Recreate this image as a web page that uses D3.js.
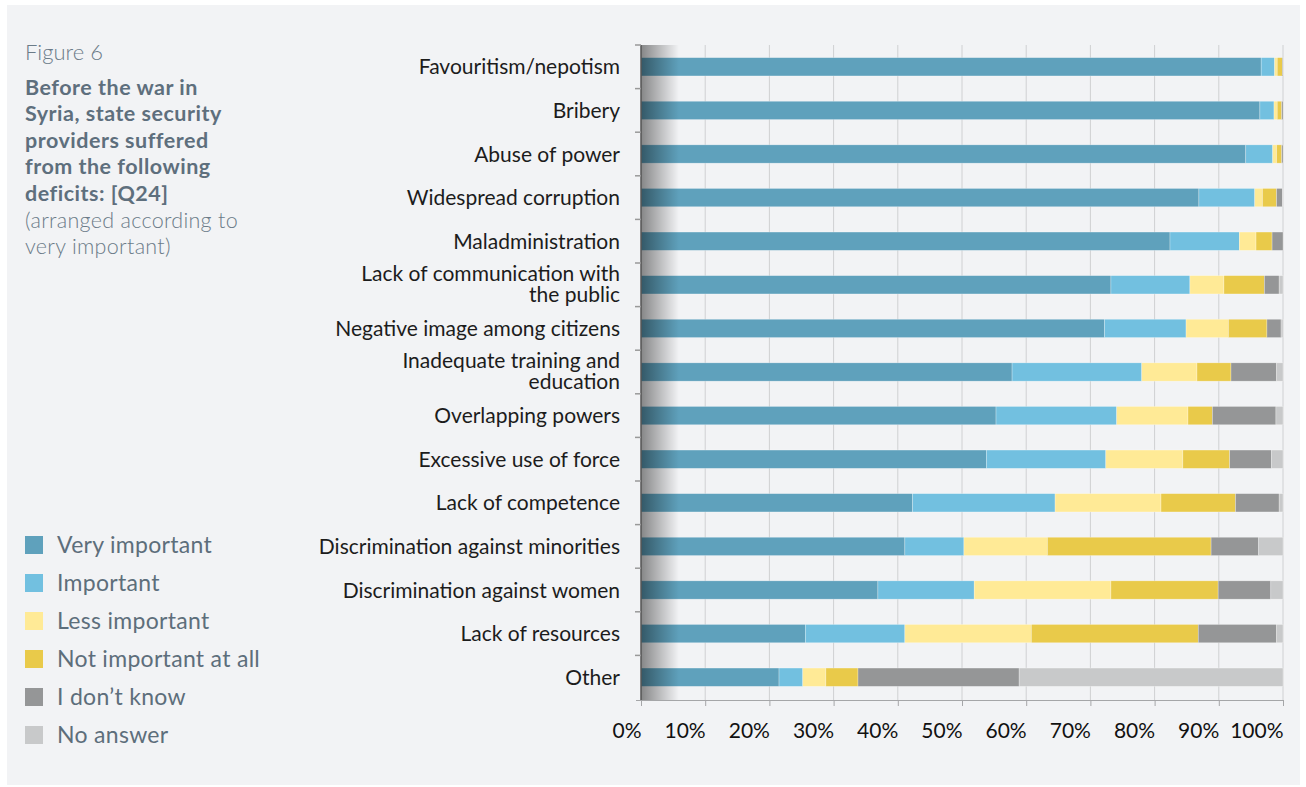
<!DOCTYPE html>
<html lang="en">

<head>
    <meta charset="UTF-8">
    <title>Figure 6</title>
    <script src="https://d3js.org/d3.v7.min.js"></script>
    <style>
        html, body {
            margin: 0;
            padding: 0;
            background: #ffffff;
        }

        #chart {
            width: 1306px;
            height: 787px;
        }

        text {
            font-family: Lato, "Open Sans", sans-serif;
        }
    </style>
</head>

<body>

    <div id="chart"></div>

    <script>
        // Data (percent of respondents)
        var categories = [
            "Favouritism/nepotism",
            "Bribery",
            "Abuse of power",
            "Widespread corruption",
            "Maladministration",
            "Lack of communication with|the public",
            "Negative image among citizens",
            "Inadequate training and|education",
            "Overlapping powers",
            "Excessive use of force",
            "Lack of competence",
            "Discrimination against minorities",
            "Discrimination against women",
            "Lack of resources",
            "Other"
        ];

        var seriesNames = ["Very important", "Important", "Less important", "Not important at all", "I don\u2019t know", "No answer"];
        var seriesColors = ["#5fa1bc", "#72c0e0", "#ffea96", "#e9ca4a", "#959697", "#c8c9ca"];

        var veryImportant = [96.6, 96.4, 94.2, 86.9, 82.4, 73.2, 72.2, 57.8, 55.3, 53.8, 42.3, 41.1, 36.9, 25.6, 21.5];
        var important      = [2.1, 2.2, 4.2, 8.7, 10.8, 12.3, 12.7, 20.2, 18.8, 18.6, 22.2, 9.2, 15.0, 15.5, 3.7];
        var lessImportant  = [0.4, 0.5, 0.6, 1.2, 2.6, 5.3, 6.6, 8.6, 11.1, 12.0, 16.5, 13.0, 21.3, 19.7, 3.6];
        var notImportant   = [0.8, 0.7, 0.8, 2.2, 2.5, 6.3, 6.0, 5.3, 3.8, 7.3, 11.6, 25.5, 16.7, 26.0, 5.0];
        var dontKnow       = [0.1, 0.2, 0.2, 0.9, 1.7, 2.3, 2.2, 7.1, 9.9, 6.5, 6.8, 7.4, 8.2, 12.2, 25.1];
        var noAnswer       = [0.0, 0.0, 0.0, 0.1, 0.0, 0.6, 0.3, 1.0, 1.1, 1.8, 0.6, 3.8, 1.9, 1.0, 41.1];

        var xTicks = [0, 10, 20, 30, 40, 50, 60, 70, 80, 90, 100];

        var width = 1306;
        var height = 787;

        var svg = d3.select("#chart")
            .append("svg")
            .attr("width", width)
            .attr("height", height);

        // panel background
        svg.append("rect")
            .attr("x", 7)
            .attr("y", 5)
            .attr("width", 1293)
            .attr("height", 780)
            .attr("fill", "#f2f3f5");

        var x = d3.scaleLinear()
            .domain([0, 100])
            .range([641, 1283]);

        var y = d3.scaleBand()
            .domain(categories)
            .range([45, 699])
            .paddingInner(0.58)
            .paddingOuter(0.29);

        // stack the series
        var rows = categories.map(function (c, i) {
            return {
                cat: c,
                s0: veryImportant[i], s1: important[i], s2: lessImportant[i],
                s3: notImportant[i], s4: dontKnow[i], s5: noAnswer[i]
            };
        });
        var stack = d3.stack().keys(["s0", "s1", "s2", "s3", "s4", "s5"]);
        var stacked = stack(rows);

        // vertical gridlines
        svg.append("g")
            .selectAll("line")
            .data(xTicks.slice(1))
            .enter().append("line")
            .attr("x1", function (d) { return x(d); })
            .attr("x2", function (d) { return x(d); })
            .attr("y1", 45)
            .attr("y2", 700)
            .attr("stroke", "#cfd0d2")
            .attr("stroke-width", 1);

        // bars
        svg.append("g")
            .selectAll("g")
            .data(stacked)
            .enter().append("g")
            .attr("fill", function (d, i) { return seriesColors[i]; })
            .selectAll("rect")
            .data(function (d) { return d; })
            .enter().append("rect")
            .attr("x", function (d) { return x(d[0]); })
            .attr("y", function (d) { return y(d.data.cat); })
            .attr("width", function (d) { return x(d[1]) - x(d[0]); })
            .attr("height", y.bandwidth())
            .attr("stroke", "rgba(255,255,255,0.45)")
            .attr("stroke-width", 0.6);

        // shadow at the left edge
        var defs = svg.append("defs");
        var grad = defs.append("linearGradient")
            .attr("id", "shade")
            .attr("x1", "0%").attr("x2", "100%")
            .attr("y1", "0%").attr("y2", "0%");
        grad.append("stop").attr("offset", "0%").attr("stop-color", "#000").attr("stop-opacity", 0.45);
        grad.append("stop").attr("offset", "100%").attr("stop-color", "#000").attr("stop-opacity", 0);

        svg.append("rect")
            .attr("x", 641)
            .attr("y", 45)
            .attr("width", 38)
            .attr("height", 655)
            .attr("fill", "url(#shade)");

        // x axis
        var xAxis = svg.append("g")
            .attr("transform", "translate(0,700)")
            .call(d3.axisBottom(x).tickValues(xTicks).tickSize(6).tickSizeOuter(0)
                .tickFormat(function (d) { return d + "%"; }));
        xAxis.select(".domain").attr("stroke", "#a5a6a8").attr("d", "M636,0.5H1283");
        xAxis.selectAll(".tick line").attr("stroke", "#a5a6a8");
        xAxis.selectAll(".tick text")
            .attr("text-anchor", "end")
            .attr("x", 0)
            .attr("y", 23)
            .attr("dy", "0.71em")
            .style("font-size", "21px")
            .attr("fill", "#111");

        // y axis line and ticks between bands
        svg.append("line")
            .attr("x1", 641).attr("x2", 641)
            .attr("y1", 45).attr("y2", 700)
            .attr("stroke", "#555")
            .attr("stroke-width", 1.5);

        svg.append("g")
            .selectAll("line")
            .data(categories)
            .enter().append("line")
            .attr("x1", 635).attr("x2", 641)
            .attr("y1", function (d) { return y(d) - y.step() * y.paddingInner() / 2; })
            .attr("y2", function (d) { return y(d) - y.step() * y.paddingInner() / 2; })
            .attr("stroke", "#999")
            .attr("stroke-width", 1.5);

        // category labels (two-line labels split on "|")
        var labelLines = [];
        categories.forEach(function (c) {
            var parts = c.split("|");
            parts.forEach(function (p, i) {
                var off = parts.length > 1 ? (i === 0 ? -4 : 17) : 7.5;
                labelLines.push({ cat: c, text: p, off: off });
            });
        });

        svg.append("g")
            .selectAll("text")
            .data(labelLines)
            .enter().append("text")
            .attr("x", 620)
            .attr("y", function (d) { return y(d.cat) + y.bandwidth() / 2 + d.off; })
            .attr("text-anchor", "end")
            .style("font-size", "21px")
            .attr("fill", "#1c1c1c")
            .text(function (d) { return d.text; });

        // title block
        svg.append("text")
            .attr("x", 25).attr("y", 60)
            .style("font-size", "22px")
            .style("font-weight", 300)
            .attr("fill", "#6b7b88")
            .text("Figure 6");

        var titleLines = ["Before the war in", "Syria, state security", "providers suffered", "from the following", "deficits: [Q24]"];
        svg.append("g")
            .selectAll("text")
            .data(titleLines)
            .enter().append("text")
            .attr("x", 25)
            .attr("y", function (d, i) { return 95 + i * 26.4; })
            .style("font-size", "21.5px")
            .style("font-weight", 700)
            .style("letter-spacing", "0.5px")
            .attr("fill", "#5e6f7d")
            .text(function (d) { return d; });

        var noteLines = ["(arranged according to", "very important)"];
        svg.append("g")
            .selectAll("text")
            .data(noteLines)
            .enter().append("text")
            .attr("x", 25)
            .attr("y", function (d, i) { return 228 + i * 25.5; })
            .style("font-size", "21.5px")
            .style("font-weight", 300)
            .style("letter-spacing", "0.3px")
            .attr("fill", "#6b7b88")
            .text(function (d) { return d; });

        // legend
        var legend = svg.append("g")
            .selectAll("g")
            .data(seriesNames)
            .enter().append("g")
            .attr("transform", function (d, i) { return "translate(25," + (536 + i * 38) + ")"; });

        legend.append("rect")
            .attr("width", 18)
            .attr("height", 18)
            .attr("fill", function (d, i) { return seriesColors[i]; });

        legend.append("text")
            .attr("x", 32)
            .attr("y", 9)
            .attr("dy", "0.35em")
            .style("font-size", "23px")
            .style("letter-spacing", "0.3px")
            .attr("fill", "#5d6e7b")
            .text(function (d) { return d; });

    </script>

</body>

</html>
